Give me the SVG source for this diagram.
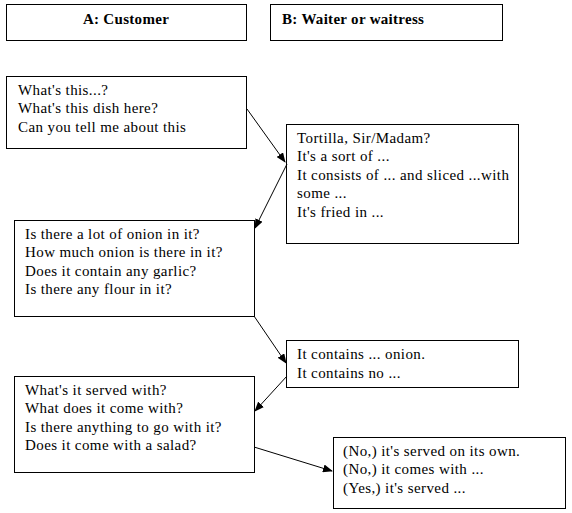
<svg xmlns="http://www.w3.org/2000/svg" width="572" height="513" viewBox="0 0 572 513">
<style>
.b{fill:#fff;stroke:#000;stroke-width:1}
.t{font-family:"Liberation Serif","Times New Roman",serif;font-size:15px;letter-spacing:0.4px;fill:#000}
.h{font-family:"Liberation Serif","Times New Roman",serif;font-size:15px;letter-spacing:0.3px;font-weight:bold;fill:#000}
.c{stroke:#000;stroke-width:1;fill:none;marker-end:url(#ah)}
</style>
<defs>
<marker id="ah" markerWidth="10" markerHeight="8" refX="9" refY="4" orient="auto" markerUnits="userSpaceOnUse">
<path d="M0,0 L10,4 L0,8 z" fill="#000"/>
</marker>
</defs>
<rect width="572" height="513" fill="#fff"/>
<g id="headA"><rect class="b" x="6.5" y="4.5" width="240" height="36"/><text class="h" x="126" y="24" text-anchor="middle">A: Customer</text></g>
<g id="headB"><rect class="b" x="270.5" y="4.5" width="232" height="36"/><text class="h" x="282" y="24">B: Waiter or waitress</text></g>
<g id="n1"><rect class="b" x="6.5" y="76.5" width="240" height="72"/>
<text class="t" x="18"><tspan x="18" y="95">What's this...?</tspan><tspan x="18" y="113">What's this dish here?</tspan><tspan x="18" y="132">Can you tell me about this</tspan></text></g>
<g id="n2"><rect class="b" x="286.5" y="124.5" width="232" height="119"/>
<text class="t"><tspan x="297" y="143">Tortilla, Sir/Madam?</tspan><tspan x="297" y="161">It's a sort of ...</tspan><tspan x="297" y="180">It consists of ... and sliced ...with</tspan><tspan x="297" y="198">some ...</tspan><tspan x="297" y="217">It's fried in ...</tspan></text></g>
<g id="n3"><rect class="b" x="14.5" y="220.5" width="240" height="96"/>
<text class="t"><tspan x="25" y="239">Is there a lot of onion in it?</tspan><tspan x="25" y="257">How much onion is there in it?</tspan><tspan x="25" y="276">Does it contain any garlic?</tspan><tspan x="25" y="294">Is there any flour in it?</tspan></text></g>
<g id="n4"><rect class="b" x="286.5" y="340.5" width="232" height="47"/>
<text class="t"><tspan x="297" y="359">It contains ... onion.</tspan><tspan x="297" y="378">It contains no ...</tspan></text></g>
<g id="n5"><rect class="b" x="14.5" y="376.5" width="240" height="96"/>
<text class="t"><tspan x="25" y="395">What's it served with?</tspan><tspan x="25" y="413">What does it come with?</tspan><tspan x="25" y="432">Is there anything to go with it?</tspan><tspan x="25" y="450">Does it come with a salad?</tspan></text></g>
<g id="n6"><rect class="b" x="333.5" y="437.5" width="232" height="71"/>
<text class="t"><tspan x="343" y="456">(No,) it's served on its own.</tspan><tspan x="343" y="474">(No,) it comes with ...</tspan><tspan x="343" y="493">(Yes,) it's served ...</tspan></text></g>
<g id="connectors">
<line class="c" x1="247" y1="109" x2="285" y2="162"/>
<line class="c" x1="287" y1="164" x2="255" y2="228"/>
<line class="c" x1="254" y1="316" x2="286" y2="363"/>
<line class="c" x1="287" y1="376" x2="255" y2="411"/>
<line class="c" x1="254" y1="447" x2="332" y2="471"/>
</g>
</svg>
